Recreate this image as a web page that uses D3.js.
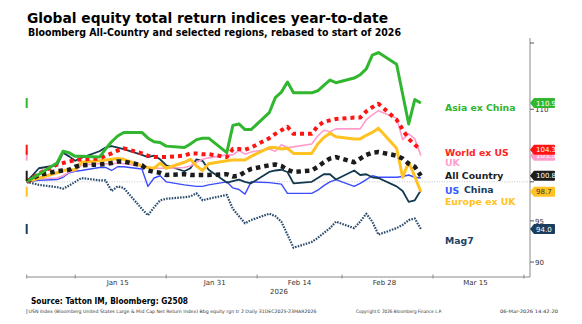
<!DOCTYPE html>
<html>
<head>
<meta charset="utf-8">
<script src="https://cdn.jsdelivr.net/npm/d3@7"></script>
<style>
  body { margin: 0; background: #fff; }
  svg { display: block; font-family: "DejaVu Sans", Verdana, sans-serif; }
</style>
</head>
<body>
<div id="chart"></div>
<script>
// trading days, rebased to 100 on 31 Dec 2025
const dates = [
  "2025-12-31", "2026-01-02",
  "2026-01-05", "2026-01-06", "2026-01-07", "2026-01-08", "2026-01-09",
  "2026-01-12", "2026-01-13", "2026-01-14", "2026-01-15", "2026-01-16",
  "2026-01-19", "2026-01-20", "2026-01-21", "2026-01-22", "2026-01-23",
  "2026-01-26", "2026-01-27", "2026-01-28", "2026-01-29", "2026-01-30",
  "2026-02-02", "2026-02-03", "2026-02-04", "2026-02-05", "2026-02-06",
  "2026-02-09", "2026-02-10", "2026-02-11", "2026-02-12", "2026-02-13",
  "2026-02-16", "2026-02-17", "2026-02-18", "2026-02-19", "2026-02-20",
  "2026-02-23", "2026-02-24", "2026-02-25", "2026-02-26", "2026-02-27",
  "2026-03-02", "2026-03-03", "2026-03-04", "2026-03-05", "2026-03-06"
];

const asiaExChina = [100.0, 101.0,
  102.5, 104.1, 103.9, 103.4, 103.4,  103.3, 104.4, 105.4, 106.2, 106.7,
  106.7, 105.9, 105.4, 105.3, 104.8,  104.6, 105.1, 105.7, 105.9, 105.9,
  103.9, 107.7, 107.9, 107.1, 107.1,  109.5, 111.7, 112.5, 114.0, 112.4,
  112.4, 112.7, 113.5, 114.3, 113.9,  114.6, 115.1, 116.0, 118.1, 118.5,
  116.7, 112.2, 107.9, 111.4, 110.9];

const worldExUs = [100.0, 101.1,
  102.3, 102.5, 102.7, 102.9, 103.0,  103.1, 103.5, 103.8, 104.2, 104.5,
  103.8, 103.5, 103.3, 103.3, 103.3,  103.5, 103.8, 103.8, 103.7, 103.7,
  103.3, 104.4, 104.4, 104.3, 104.6,  105.9, 106.5, 107.0, 107.5, 106.5,
  106.5, 107.6, 108.2, 108.4, 108.6,  108.8, 108.8, 109.7, 110.3, 110.8,
  108.5, 107.1, 105.8, 105.0, 104.3];

const uk = [100.0, 100.4,
  100.5, 100.8, 101.3, 101.5, 102.2,  102.4, 102.4, 102.4, 102.5, 102.4,
  102.1, 101.9, 101.8, 101.8, 101.8,  101.9, 102.1, 102.6, 103.0, 103.2,
  103.6, 103.6, 104.2, 103.7, 104.0,  104.4, 104.1, 105.0, 104.6, 104.7,
  105.1, 106.2, 107.0, 106.8, 107.2,  107.2, 107.2, 108.5, 109.2, 109.8,
  108.7, 105.7, 106.5, 105.8, 103.5];

const allCountry = [100.0, 100.9,
  101.4, 101.5, 101.6, 102.0, 102.2,  102.3, 102.4, 102.5, 102.7, 102.7,
  102.2, 101.5, 101.3, 101.2, 100.9,  101.0, 100.9, 100.9, 100.9, 100.9,
  101.0, 100.7, 100.8, 101.3, 101.7,  102.2, 102.3, 102.1, 101.6, 101.3,
  101.5, 102.0, 102.6, 103.1, 103.3,  102.6, 103.1, 103.6, 103.9, 104.0,
  103.5, 103.1, 102.4, 102.0, 100.8];

const us = [100.0, 100.2,
  100.3, 100.6, 101.2, 101.4, 101.5,  101.9, 101.9, 101.5, 102.0, 102.0,
  101.7, 99.4, 100.5, 100.8, 100.0,   99.6, 99.5, 99.4, 99.4, 99.6,
  100.0, 99.2, 99.0, 98.4, 100.0,     99.9, 99.8, 99.7, 98.5, 98.5,
  98.5, 98.9, 99.5, 100.0, 100.3,     99.4, 99.8, 100.3, 100.8, 100.6,
  100.6, 100.7, 100.9, 100.6, 100.5];

const china = [100.0, 101.8,
  102.2, 103.9, 103.4, 102.8, 103.2,  104.1, 104.6, 104.8, 104.6, 104.4,
  103.6, 103.3, 103.5, 103.0, 102.2,  101.4, 101.8, 103.0, 102.8, 101.6,
  99.9, 100.1, 100.3, 100.0, 99.8,    101.3, 101.5, 101.6, 101.3, 99.8,
  100.0, 100.5, 101.0, 101.0, 100.3,  101.5, 100.9, 101.0, 100.6, 100.5,
  99.4, 98.8, 97.4, 97.6, 98.9];

const europeExUk = [100.0, 100.5,
  101.2, 101.5, 101.6, 101.6, 102.6,  102.8, 102.9, 103.0, 103.1, 103.0,
  102.1, 101.9, 101.8, 102.5, 101.8,  102.6, 103.0, 102.1, 101.5, 102.4,
  102.8, 102.9, 102.9, 102.9, 103.4,  104.6, 104.6, 104.4, 104.5, 103.8,
  103.8, 105.1, 106.0, 106.6, 106.1,  105.8, 105.8, 106.3, 106.7, 107.3,
  104.5, 100.6, 102.6, 100.7, 98.7];

const mag7 = [100.0, 99.6,
  99.3, 99.1, 99.5, 100.0, 100.5,     100.2, 100.2, 98.8, 99.4, 99.2,
  96.5, 95.7, 96.7, 97.6, 97.8,       98.0, 98.1, 98.5, 97.6, 97.8,
  98.3, 96.5, 95.6, 94.7, 95.1,       95.9, 95.6, 94.9, 93.3, 91.7,
  92.4, 92.9, 93.5, 94.1, 94.9,       94.1, 94.9, 95.9, 94.9, 93.3,
  94.1, 94.5, 95.1, 95.3, 94.0];

const xTickDates = ["2025-12-31", "2026-01-08", "2026-01-23", "2026-02-07", "2026-02-21", "2026-03-08", "2026-03-23"];
const xLabelDates = ["2026-01-15", "2026-01-31", "2026-02-14", "2026-02-28", "2026-03-15"];
const yTicks = [90, 95, 100, 110, 120];
const yLabels = [90, 95, 110];

const width = 582, height = 324;
const plot = {left: 26.7, right: 530, top: 38, bottom: 277};

const parse = d3.timeParse("%Y-%m-%d");
const days = dates.map(parse);

const svg = d3.select("#chart")
  .append("svg")
  .attr("width", width)
  .attr("height", height);

const x = d3.scaleTime()
  .domain([parse("2025-12-31"), parse("2026-03-24")])
  .range([plot.left, plot.right]);

const y = d3.scaleLog()
  .domain([88.25, 120])
  .range([plot.bottom, 43]);

// titles
svg.append("text")
  .attr("x", 27).attr("y", 22.5)
  .attr("font-size", "13.8px").attr("font-weight", "bold")
  .attr("fill", "#000")
  .attr("textLength", 361).attr("lengthAdjust", "spacingAndGlyphs")
  .text("Global equity total return indices year-to-date");

svg.append("text")
  .attr("x", 28).attr("y", 35.5)
  .attr("font-size", "9.8px").attr("font-weight", "bold")
  .attr("fill", "#000")
  .attr("textLength", 373).attr("lengthAdjust", "spacingAndGlyphs")
  .text("Bloomberg All-Country and selected regions, rebased to start of 2026");

// 100 reference line
svg.append("line")
  .attr("x1", plot.left).attr("x2", plot.right)
  .attr("y1", y(100)).attr("y2", y(100))
  .attr("stroke", "#c4c4c4")
  .attr("stroke-width", 1)
  .attr("stroke-dasharray", "1,1.5");

// axes
svg.append("line")
  .attr("x1", plot.left).attr("x2", plot.right)
  .attr("y1", plot.bottom).attr("y2", plot.bottom)
  .attr("stroke", "#8a8a8a");

svg.append("line")
  .attr("x1", plot.right).attr("x2", plot.right)
  .attr("y1", plot.top).attr("y2", plot.bottom)
  .attr("stroke", "#8a8a8a");

svg.append("g")
  .selectAll("line")
  .data(xTickDates.map(parse))
  .enter()
  .append("line")
  .attr("x1", d => x(d)).attr("x2", d => x(d))
  .attr("y1", plot.bottom - 2.5).attr("y2", plot.bottom + 1.5)
  .attr("stroke", "#8a8a8a");

svg.append("g")
  .selectAll("text")
  .data(xLabelDates.map(parse))
  .enter()
  .append("text")
  .attr("x", d => x(d))
  .attr("y", 284.5)
  .attr("text-anchor", "middle")
  .attr("font-size", "7px")
  .attr("fill", "#333")
  .text(d3.timeFormat("%b %-d"));

svg.append("text")
  .attr("x", 279).attr("y", 293.5)
  .attr("text-anchor", "middle")
  .attr("font-size", "7px")
  .attr("fill", "#333")
  .text("2026");

const yAxis = svg.append("g");
yAxis.selectAll("line")
  .data(yTicks)
  .enter()
  .append("line")
  .attr("x1", plot.right).attr("x2", plot.right + 4)
  .attr("y1", d => y(d)).attr("y2", d => y(d))
  .attr("stroke", "#555");

yAxis.selectAll("text")
  .data(yLabels)
  .enter()
  .append("text")
  .attr("x", plot.right + 5)
  .attr("y", d => y(d) + 3)
  .attr("font-size", "7px")
  .attr("fill", "#333")
  .text(d => d);

// series, back to front
const series = [
  {name: "Mag7", values: mag7, color: "#2c4d6e", width: 2.2, dash: "1.6,1.2"},
  {name: "US", values: us, color: "#3b4cff", width: 1.4},
  {name: "China", values: china, color: "#12394f", width: 1.8},
  {name: "UK", values: uk, color: "#ff9ccc", width: 1.6},
  {name: "Europe ex UK", values: europeExUk, color: "#ffc222", width: 3},
  {name: "All Country", values: allCountry, color: "#1c1c1c", width: 4.5, dash: "4.5,4"},
  {name: "World ex US", values: worldExUs, color: "#ff1414", width: 4, dash: "4,4"},
  {name: "Asia ex China", values: asiaExChina, color: "#31b72f", width: 3}
];

const line = d3.line()
  .x((d, i) => x(days[i]))
  .y(d => y(d));

svg.append("g")
  .selectAll("path")
  .data(series)
  .enter()
  .append("path")
  .attr("d", d => line(d.values))
  .attr("fill", "none")
  .attr("stroke", d => d.color)
  .attr("stroke-width", d => d.width)
  .attr("stroke-dasharray", d => d.dash || null)
  .attr("stroke-linejoin", "round");

// legend labels
const legendLabels = [
  {text: "Asia ex China", color: "#2fb52d", x: 445, y: 111},
  {text: "World ex US", color: "#ff1f1f", x: 445, y: 155.5},
  {text: "UK", color: "#ff9ccc", x: 445, y: 166},
  {text: "All Country", color: "#1c1c1c", x: 445, y: 179},
  {text: "US", color: "#2f5bff", x: 445, y: 194},
  {text: "China", color: "#163c5c", x: 464, y: 193},
  {text: "Europe ex UK", color: "#ffc222", x: 445, y: 205},
  {text: "Mag7", color: "#1e3f62", x: 445, y: 244}
];

svg.append("g")
  .selectAll("text")
  .data(legendLabels)
  .enter()
  .append("text")
  .attr("x", d => d.x)
  .attr("y", d => d.y)
  .attr("font-size", "9.3px")
  .attr("font-weight", "bold")
  .attr("fill", d => d.color)
  .text(d => d.text);

// last-value markers: small bar on the left edge, tag on the right axis
const tagged = [
  {values: mag7, color: "#1b3d5e", text: "#fff"},
  {values: europeExUk, color: "#ffc222", text: "#333"},
  {values: allCountry, color: "#1c1c1c", text: "#fff"},
  {values: uk, color: "#ff9ccc", text: "#fff"},
  {values: worldExUs, color: "#ff1414", text: "#fff"},
  {values: asiaExChina, color: "#31b72f", text: "#fff"}
];

svg.append("g")
  .selectAll("rect")
  .data(tagged)
  .enter()
  .append("rect")
  .attr("x", plot.left - 1)
  .attr("y", d => y(d.values[d.values.length - 1]) - 5)
  .attr("width", 2)
  .attr("height", 10)
  .attr("fill", d => d.color);

const tags = svg.append("g")
  .selectAll("g")
  .data(tagged)
  .enter()
  .append("g")
  .attr("transform", d => `translate(${plot.right},${y(d.values[d.values.length - 1])})`);

tags.append("path")
  .attr("d", "M0,0 L4,-5 L24,-5 Q25,-5 25,-4 L25,4 Q25,5 24,5 L4,5 Z")
  .attr("fill", d => d.color);

tags.append("text")
  .attr("x", 6)
  .attr("y", 2.6)
  .attr("font-size", "7px")
  .attr("fill", d => d.text)
  .text(d => d3.format(".1f")(d.values[d.values.length - 1]));

// source and footer
svg.append("text")
  .attr("x", 31).attr("y", 304)
  .attr("font-size", "8.5px").attr("font-weight", "bold")
  .attr("fill", "#000")
  .attr("textLength", 157).attr("lengthAdjust", "spacingAndGlyphs")
  .text("Source: Tatton IM, Bloomberg: G2508");

svg.append("rect")
  .attr("x", 26.5).attr("y", 309)
  .attr("width", 0.8).attr("height", 5)
  .attr("fill", "#5b8bd0");

const footer = [
  {text: "USN Index (Bloomberg United States Large & Mid Cap Net Return Index) Bbg equity rgn tr 2 Daily 31DEC2025-23MAR2026", x: 28.5, len: 288},
  {text: "Copyright\u00a9 2026 Bloomberg Finance L.P.", x: 356, len: 86},
  {text: "06-Mar-2026 14:42:20", x: 500, len: 58}
];

svg.append("g")
  .selectAll("text")
  .data(footer)
  .enter()
  .append("text")
  .attr("x", d => d.x)
  .attr("y", 313)
  .attr("font-size", "4.6px")
  .attr("fill", "#333")
  .attr("textLength", d => d.len)
  .attr("lengthAdjust", "spacingAndGlyphs")
  .text(d => d.text);
</script>
</body>
</html>
